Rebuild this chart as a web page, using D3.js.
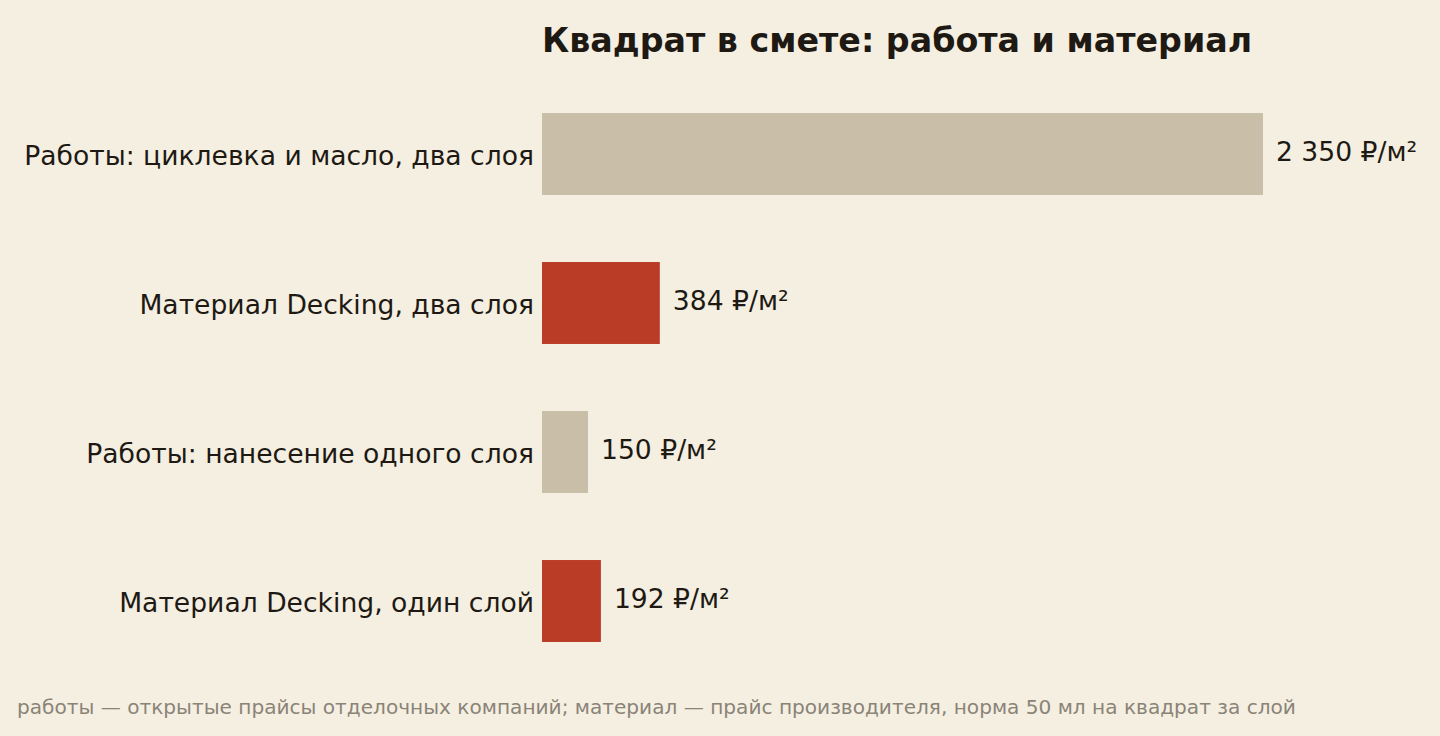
<!DOCTYPE html>
<html>
<head>
<meta charset="utf-8">
<script src="https://cdn.jsdelivr.net/npm/d3@7"></script>
<style>
  html, body { margin: 0; padding: 0; background: #f5efe2; }
  svg { display: block; }
</style>
</head>
<body>
<svg id="chart"></svg>
<script>
const categories = [
  'Работы: циклевка и масло, два слоя',
  'Материал Decking, два слоя',
  'Работы: нанесение одного слоя',
  'Материал Decking, один слой'
];
const values = [2350, 384, 150, 192];
const kinds = ['work', 'material', 'work', 'material'];
const valueLabels = ['2 350 ₽/м²', '384 ₽/м²', '150 ₽/м²', '192 ₽/м²'];

const title = 'Квадрат в смете: работа и материал';
const note = 'работы — открытые прайсы отделочных компаний; материал — прайс производителя, норма 50 мл на квадрат за слой';

const width = 1440, height = 736;
const left = 542;
const font = 'DejaVu Sans, sans-serif';

const DATA = categories.map((c, i) => ({ cat: c, value: values[i], kind: kinds[i], label: valueLabels[i] }));

const svg = d3.select('#chart')
  .attr('width', width)
  .attr('height', height);

svg.append('rect')
  .attr('width', width)
  .attr('height', height)
  .attr('fill', '#f5efe2');

const x = d3.scaleLinear()
  .domain([0, 2350])
  .range([left, 1263]);

const y = d3.scaleBand()
  .domain(categories)
  .range([79.5, 675.5])
  .paddingInner(0.45)
  .paddingOuter(0.225);

const color = d3.scaleOrdinal()
  .domain(['work', 'material'])
  .range(['#c9bea7', '#bb3c26']);

svg.append('text')
  .attr('x', left)
  .attr('y', 52)
  .attr('font-family', font)
  .attr('font-weight', 'bold')
  .attr('font-size', 33.3)
  .attr('fill', '#1e1a13')
  .text(title);

svg.selectAll('rect.bar')
  .data(DATA)
  .enter()
  .append('rect')
  .attr('class', 'bar')
  .attr('x', x(0))
  .attr('y', d => y(d.cat))
  .attr('width', d => x(d.value) - x(0))
  .attr('height', y.bandwidth())
  .attr('fill', d => color(d.kind));

svg.selectAll('text.cat')
  .data(DATA)
  .enter()
  .append('text')
  .attr('class', 'cat')
  .attr('x', left - 8)
  .attr('y', d => y(d.cat) + y.bandwidth() / 2 + 1.5)
  .attr('dy', '0.35em')
  .attr('text-anchor', 'end')
  .attr('font-family', font)
  .attr('font-size', 26.6)
  .attr('fill', '#1e1a13')
  .text(d => d.cat);

svg.selectAll('text.val')
  .data(DATA)
  .enter()
  .append('text')
  .attr('class', 'val')
  .attr('x', d => x(d.value) + 13)
  .attr('y', d => y(d.cat) + y.bandwidth() / 2 - 2)
  .attr('dy', '0.35em')
  .attr('font-family', font)
  .attr('font-size', 26.6)
  .attr('fill', '#1e1a13')
  .text(d => d.label);

svg.append('text')
  .attr('x', 17)
  .attr('y', 714)
  .attr('font-family', font)
  .attr('font-size', 20.1)
  .attr('fill', '#8a8377')
  .text(note);
</script>
</body>
</html>
